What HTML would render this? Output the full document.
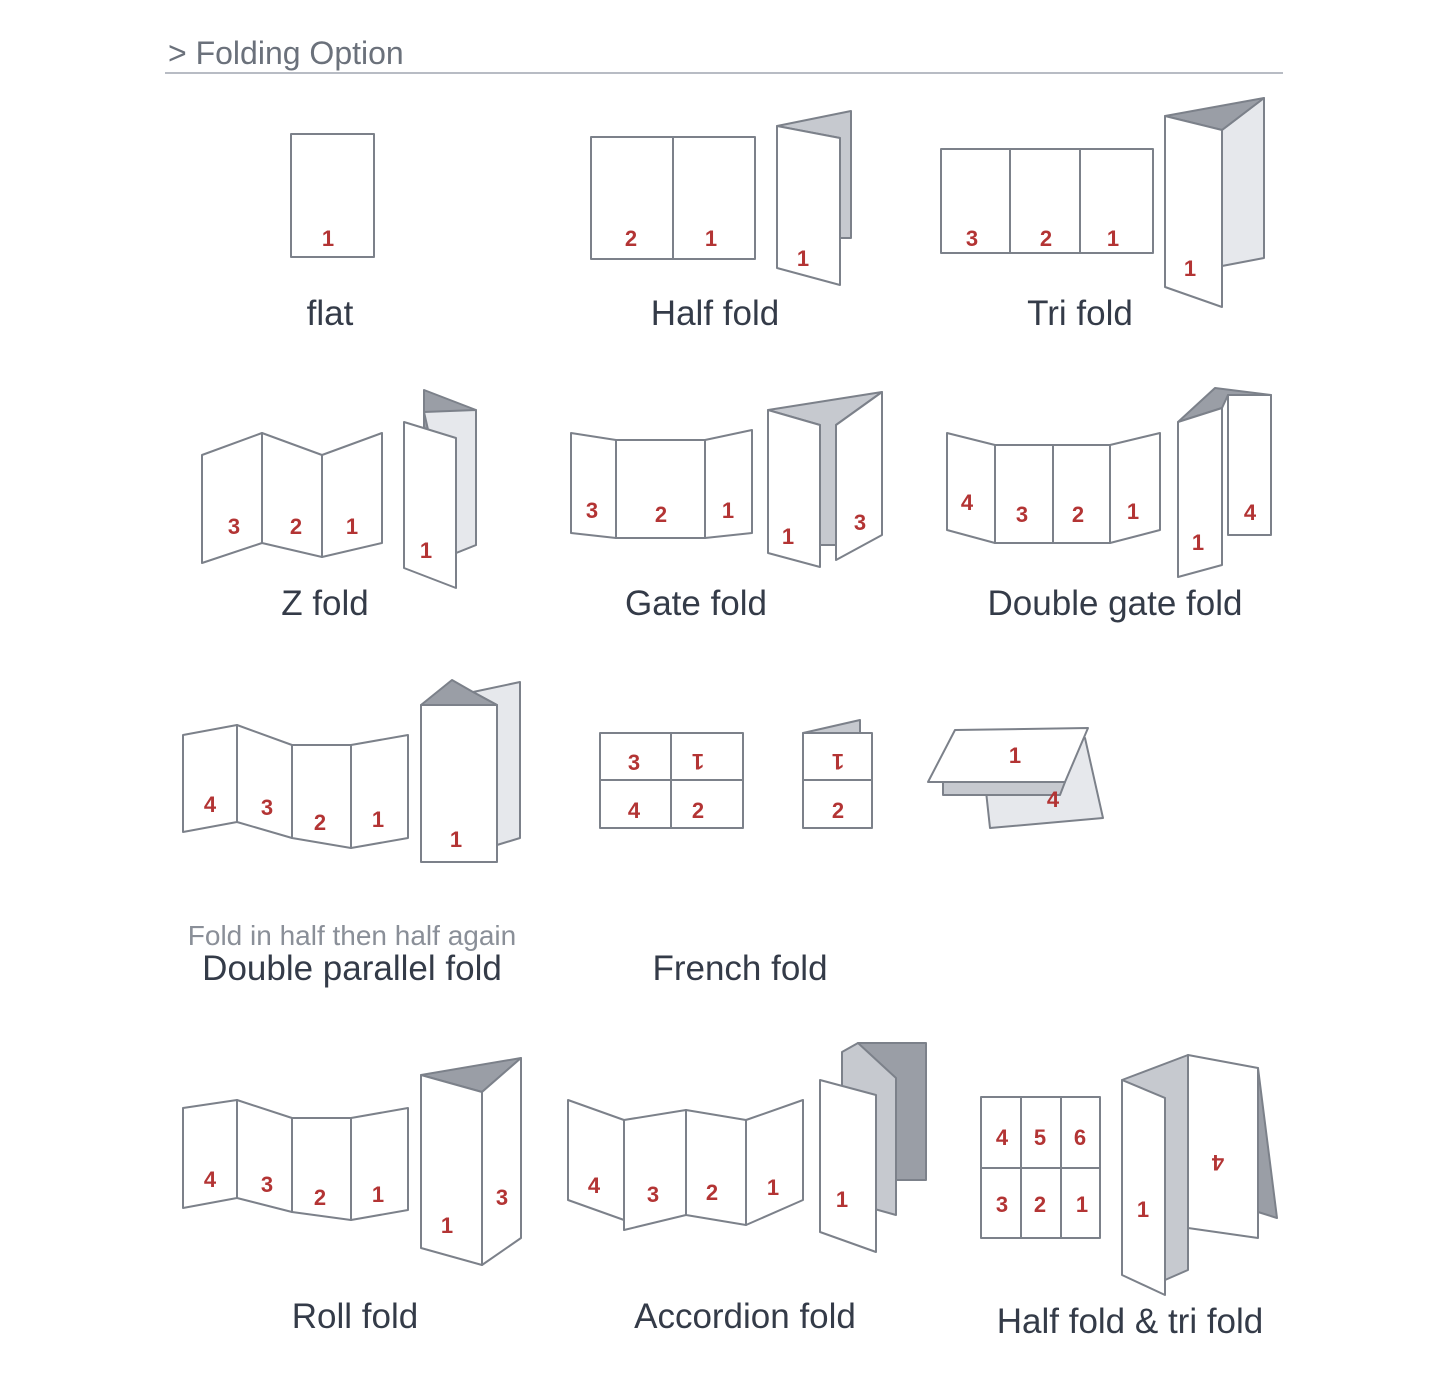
<!DOCTYPE html>
<html><head><meta charset="utf-8"><style>
html,body{margin:0;padding:0;background:#fff;}
svg{display:block;}
.p{fill:#fff;stroke:#7c818a;stroke-width:2;stroke-linejoin:round;}
.g{fill:#c6c9cf;stroke:#7c818a;stroke-width:2;stroke-linejoin:round;}
.d{fill:#9a9ea6;stroke:#7c818a;stroke-width:2;stroke-linejoin:round;}
.l{fill:#e6e8ec;stroke:#7c818a;stroke-width:2;stroke-linejoin:round;}
.n{font-family:"Liberation Sans",sans-serif;font-weight:bold;font-size:22px;fill:#b33434;text-anchor:middle;}
.t{font-family:"Liberation Sans Narrow","Liberation Sans",sans-serif;font-size:35px;fill:#343b48;text-anchor:middle;}
</style></head><body>
<svg width="1445" height="1387" viewBox="0 0 1445 1387" xmlns="http://www.w3.org/2000/svg">
<text x="168" y="64" font-family="Liberation Sans Narrow, Liberation Sans, sans-serif" font-size="32" fill="#6b717b">&gt; Folding Option</text>
<line x1="165" y1="73" x2="1283" y2="73" stroke="#b8bcc4" stroke-width="2"/>

<!-- flat -->
<rect class="p" x="291" y="134" width="83" height="123"/>
<text class="n" x="328" y="246">1</text>
<text class="t" x="330" y="325">flat</text>

<!-- half fold -->
<rect class="p" x="591" y="137" width="164" height="122"/>
<line class="p" x1="673" y1="137" x2="673" y2="259"/>
<text class="n" x="631" y="246">2</text><text class="n" x="711" y="246">1</text>
<polygon class="g" points="777,126 851,111 851,238 840,238 840,138"/>
<polygon class="p" points="777,126 840,138 840,285 777,268"/>
<text class="n" x="803" y="266">1</text>
<text class="t" x="715" y="325">Half fold</text>

<!-- tri fold -->
<rect class="p" x="941" y="149" width="212" height="104"/>
<line class="p" x1="1010" y1="149" x2="1010" y2="253"/><line class="p" x1="1080" y1="149" x2="1080" y2="253"/>
<text class="n" x="972" y="246">3</text><text class="n" x="1046" y="246">2</text><text class="n" x="1113" y="246">1</text>
<polygon class="l" points="1222,130 1264,98 1264,258 1222,266"/>
<polygon class="d" points="1165,116 1264,98 1222,130"/>
<polygon class="p" points="1165,116 1222,130 1222,307 1165,287"/>
<text class="n" x="1190" y="276">1</text>
<text class="t" x="1080" y="325">Tri fold</text>

<!-- Z fold -->
<polygon class="p" points="202,455 262,433 262,543 202,563"/>
<polygon class="p" points="262,433 322,455 322,557 262,543"/>
<polygon class="p" points="322,455 382,433 382,543 322,557"/>
<text class="n" x="234" y="534">3</text><text class="n" x="296" y="534">2</text><text class="n" x="352" y="534">1</text>
<polygon class="d" points="424,390 476,410 476,545 456,553 456,438 424,428"/>
<polygon class="l" points="424,412 476,410 476,545 456,553"/>
<polygon class="p" points="404,422 456,438 456,588 404,568"/>
<text class="n" x="426" y="558">1</text>
<text class="t" x="325" y="615">Z fold</text>

<!-- Gate fold -->
<polygon class="p" points="571,433 616,440 616,538 571,533"/>
<polygon class="p" points="616,440 705,440 705,538 616,538"/>
<polygon class="p" points="705,440 752,430 752,533 705,538"/>
<text class="n" x="592" y="518">3</text><text class="n" x="661" y="522">2</text><text class="n" x="728" y="518">1</text>
<polygon class="g" points="768,410 882,392 836,425 836,545 820,545 820,425"/>
<polygon class="p" points="768,410 820,425 820,567 768,553"/>
<polygon class="p" points="836,425 882,392 882,535 836,560"/>
<text class="n" x="788" y="544">1</text><text class="n" x="860" y="530">3</text>
<text class="t" x="696" y="615">Gate fold</text>

<!-- Double gate -->
<polygon class="p" points="947,433 995,445 995,543 947,530"/>
<polygon class="p" points="995,445 1053,445 1053,543 995,543"/>
<polygon class="p" points="1053,445 1110,445 1110,543 1053,543"/>
<polygon class="p" points="1110,445 1160,433 1160,530 1110,543"/>
<text class="n" x="967" y="510">4</text><text class="n" x="1022" y="522">3</text><text class="n" x="1078" y="522">2</text><text class="n" x="1133" y="519">1</text>
<polygon class="d" points="1178,422 1215,388 1271,395 1228,395 1222,408"/>
<polygon class="p" points="1228,395 1271,395 1271,535 1228,535"/>
<polygon class="p" points="1178,422 1222,408 1222,565 1178,577"/>
<text class="n" x="1198" y="550">1</text><text class="n" x="1250" y="520">4</text>
<text class="t" x="1115" y="615">Double gate fold</text>

<!-- Double parallel -->
<polygon class="p" points="183,735 237,725 237,822 183,832"/>
<polygon class="p" points="237,725 292,745 292,838 237,822"/>
<polygon class="p" points="292,745 351,745 351,848 292,838"/>
<polygon class="p" points="351,745 408,735 408,838 351,848"/>
<text class="n" x="210" y="812">4</text><text class="n" x="267" y="815">3</text><text class="n" x="320" y="830">2</text><text class="n" x="378" y="827">1</text>
<polygon class="l" points="473,692 520,682 520,838 497,845 497,705"/>
<polygon class="d" points="421,705 452,680 473,692 497,705"/>
<polygon class="p" points="421,705 497,705 497,862 421,862"/>
<text class="n" x="456" y="847">1</text>
<text x="352" y="945" font-family="Liberation Sans, sans-serif" font-size="28" fill="#8a8f98" text-anchor="middle">Fold in half then half again</text>
<text class="t" x="352" y="980">Double parallel fold</text>

<!-- French fold -->
<rect class="p" x="600" y="733" width="143" height="95"/>
<line class="p" x1="671" y1="733" x2="671" y2="828"/><line class="p" x1="600" y1="780" x2="743" y2="780"/>
<text class="n" x="634" y="770">3</text><text class="n" transform="rotate(180 698 762)" x="698" y="770">1</text>
<text class="n" x="634" y="818">4</text><text class="n" x="698" y="818">2</text>
<polygon class="g" points="803,733 860,720 860,733"/>
<rect class="p" x="803" y="733" width="69" height="95"/>
<line class="p" x1="803" y1="780" x2="872" y2="780"/>
<text class="n" transform="rotate(180 838 762)" x="838" y="770">1</text>
<text class="n" x="838" y="818">2</text>
<polygon class="l" points="985,782 1085,738 1103,818 990,828"/>
<polygon class="g" points="943,782 1065,782 1060,795 943,795"/>
<polygon class="p" points="928,782 955,730 1088,728 1065,782"/>
<text class="n" x="1015" y="763">1</text>
<text class="n" x="1053" y="807">4</text>
<text class="t" x="740" y="980">French fold</text>

<!-- Roll fold -->
<polygon class="p" points="183,1108 237,1100 237,1198 183,1208"/>
<polygon class="p" points="237,1100 292,1118 292,1212 237,1198"/>
<polygon class="p" points="292,1118 351,1118 351,1220 292,1212"/>
<polygon class="p" points="351,1118 408,1108 408,1210 351,1220"/>
<text class="n" x="210" y="1187">4</text><text class="n" x="267" y="1192">3</text><text class="n" x="320" y="1205">2</text><text class="n" x="378" y="1202">1</text>
<polygon class="d" points="421,1075 521,1058 482,1092"/>
<polygon class="p" points="421,1075 482,1092 482,1265 421,1248"/>
<polygon class="p" points="482,1092 521,1058 521,1238 482,1265"/>
<text class="n" x="447" y="1233">1</text><text class="n" x="502" y="1205">3</text>
<text class="t" x="355" y="1328">Roll fold</text>

<!-- Accordion -->
<polygon class="p" points="568,1100 624,1120 624,1220 568,1200"/>
<polygon class="p" points="624,1120 686,1110 686,1215 624,1230"/>
<polygon class="p" points="686,1110 746,1120 746,1225 686,1215"/>
<polygon class="p" points="746,1120 803,1100 803,1200 746,1225"/>
<text class="n" x="594" y="1193">4</text><text class="n" x="653" y="1202">3</text><text class="n" x="712" y="1200">2</text><text class="n" x="773" y="1195">1</text>
<rect class="d" x="858" y="1043" width="68" height="137"/>
<polygon class="g" points="842,1052 858,1043 896,1078 896,1215 842,1200"/>
<polygon class="p" points="820,1080 876,1095 876,1252 820,1232"/>
<text class="n" x="842" y="1207">1</text>
<text class="t" x="745" y="1328">Accordion fold</text>

<!-- Half fold & tri fold -->
<rect class="p" x="981" y="1097" width="119" height="141"/>
<line class="p" x1="1021" y1="1097" x2="1021" y2="1238"/><line class="p" x1="1061" y1="1097" x2="1061" y2="1238"/>
<line class="p" x1="981" y1="1168" x2="1100" y2="1168"/>
<text class="n" x="1002" y="1145">4</text><text class="n" x="1040" y="1145">5</text><text class="n" x="1080" y="1145">6</text>
<text class="n" x="1002" y="1212">3</text><text class="n" x="1040" y="1212">2</text><text class="n" x="1082" y="1212">1</text>
<polygon class="d" points="1258,1068 1277,1218 1258,1212"/>
<polygon class="g" points="1122,1080 1188,1055 1188,1270 1165,1280 1165,1098"/>
<polygon class="p" points="1188,1055 1258,1068 1258,1238 1188,1228"/>
<polygon class="p" points="1122,1080 1165,1098 1165,1295 1122,1275"/>
<text class="n" x="1143" y="1217">1</text>
<text class="n" transform="rotate(180 1218 1163)" x="1218" y="1171">4</text>
<text class="t" x="1130" y="1333">Half fold &amp; tri fold</text>
</svg>
</body></html>
